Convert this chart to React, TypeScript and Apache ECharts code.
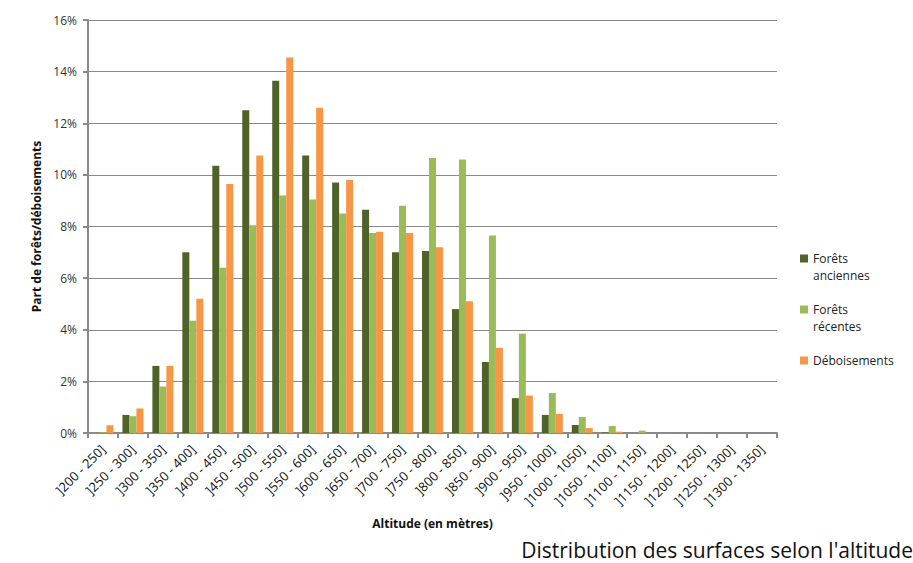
import React, { useEffect, useRef } from "react";
import * as echarts from "echarts";

const categories = [
  "]200 - 250]", "]250 - 300]", "]300 - 350]", "]350 - 400]", "]400 - 450]", "]450 - 500]",
  "]500 - 550]", "]550 - 600]", "]600 - 650]", "]650 - 700]", "]700 - 750]", "]750 - 800]",
  "]800 - 850]", "]850 - 900]", "]900 - 950]", "]950 - 1000]", "]1000 - 1050]", "]1050 - 1100]",
  "]1100 - 1150]", "]1150 - 1200]", "]1200 - 1250]", "]1250 - 1300]", "]1300 - 1350]",
];

const foretsAnciennes = [
  0, 0.7, 2.6, 7.0, 10.35, 12.5, 13.65, 10.75, 9.7, 8.65, 7.0, 7.05,
  4.8, 2.75, 1.35, 0.7, 0.31, 0.02, 0, 0, 0, 0, 0,
];
const foretsRecentes = [
  0.03, 0.65, 1.8, 4.35, 6.4, 8.05, 9.2, 9.05, 8.5, 7.75, 8.8, 10.65,
  10.6, 7.65, 3.85, 1.55, 0.62, 0.27, 0.09, 0, 0, 0, 0,
];
const deboisements = [
  0.3, 0.95, 2.6, 5.2, 9.65, 10.75, 14.55, 12.6, 9.8, 7.8, 7.75, 7.2,
  5.1, 3.3, 1.45, 0.74, 0.19, 0.05, 0, 0, 0, 0, 0,
];

const seriesNames = ["Forêts\nanciennes", "Forêts\nrécentes", "Déboisements"];
const seriesColors = ["#4f6228", "#9bbb59", "#f79646"];

export default function App() {
  const ref = useRef<HTMLDivElement>(null);
  useEffect(() => {
    if (!ref.current) return;
    const chart = echarts.init(ref.current, null, { renderer: "svg" });
    const font = "'Open Sans', 'Liberation Sans', sans-serif";
    const data = [foretsAnciennes, foretsRecentes, deboisements];
    chart.setOption({
      animation: false,
      backgroundColor: "#ffffff",
      textStyle: { fontFamily: font },
      grid: { left: 88, right: 136, top: 20, bottom: 130 },
      legend: {
        orient: "vertical",
        left: 800,
        top: 233,
        padding: 0,
        itemWidth: 8,
        itemHeight: 8,
        itemGap: 0,
        itemTextGap: 3,
        icon: "rect",
        data: seriesNames,
        // keep the swatch level with the first line of each name
        formatter: (name: string) => {
          const lines = name.split("\n");
          return "\u00a0\n" + lines[0] + "\n" + (lines[1] || "\u00a0");
        },
        textStyle: {
          fontFamily: font,
          fontSize: 12,
          color: "#222",
          lineHeight: 17,
        },
      },
      xAxis: {
        type: "category",
        data: categories,
        name: "Altitude (en mètres)",
        nameLocation: "middle",
        nameGap: 84,
        nameTextStyle: { fontFamily: font, fontSize: 12, fontWeight: "bold", color: "#111" },
        axisLine: { lineStyle: { color: "#8a8a8a", width: 2 } },
        axisTick: { show: true, length: 5, lineStyle: { color: "#8a8a8a", width: 2 } },
        axisLabel: { rotate: 45, fontSize: 13, color: "#111", margin: 14, interval: 0, fontFamily: font },
      },
      yAxis: {
        type: "value",
        min: 0,
        max: 16,
        interval: 2,
        name: "Part de forêts/déboisements",
        nameLocation: "middle",
        nameGap: 46,
        nameRotate: 90,
        nameTextStyle: { fontFamily: font, fontSize: 12, fontWeight: "bold", color: "#111" },
        axisLine: { show: true, lineStyle: { color: "#8a8a8a", width: 2 } },
        axisTick: { show: true, length: 5, lineStyle: { color: "#8a8a8a", width: 2 } },
        axisLabel: { formatter: "{value}%", fontSize: 12, color: "#333", margin: 11, fontFamily: font },
        splitLine: { lineStyle: { color: "#8a8a8a", width: 1 } },
      },
      series: seriesNames.map((name, i) => ({
        name,
        type: "bar",
        data: data[i],
        barGap: "0%",
        barCategoryGap: "30%",
        itemStyle: { color: seriesColors[i] },
      })),
      graphic: [
        {
          type: "text",
          right: 0,
          top: 539,
          style: {
            text: "Distribution des surfaces selon l'altitude",
            fontFamily: font,
            fontSize: 21,
            fill: "#111",
          },
        },
      ],
    });
    return () => chart.dispose();
  }, []);
  return (
    <div
      ref={ref}
      style={{ position: "fixed", left: 0, top: 0, width: 913, height: 563 }}
    />
  );
}
